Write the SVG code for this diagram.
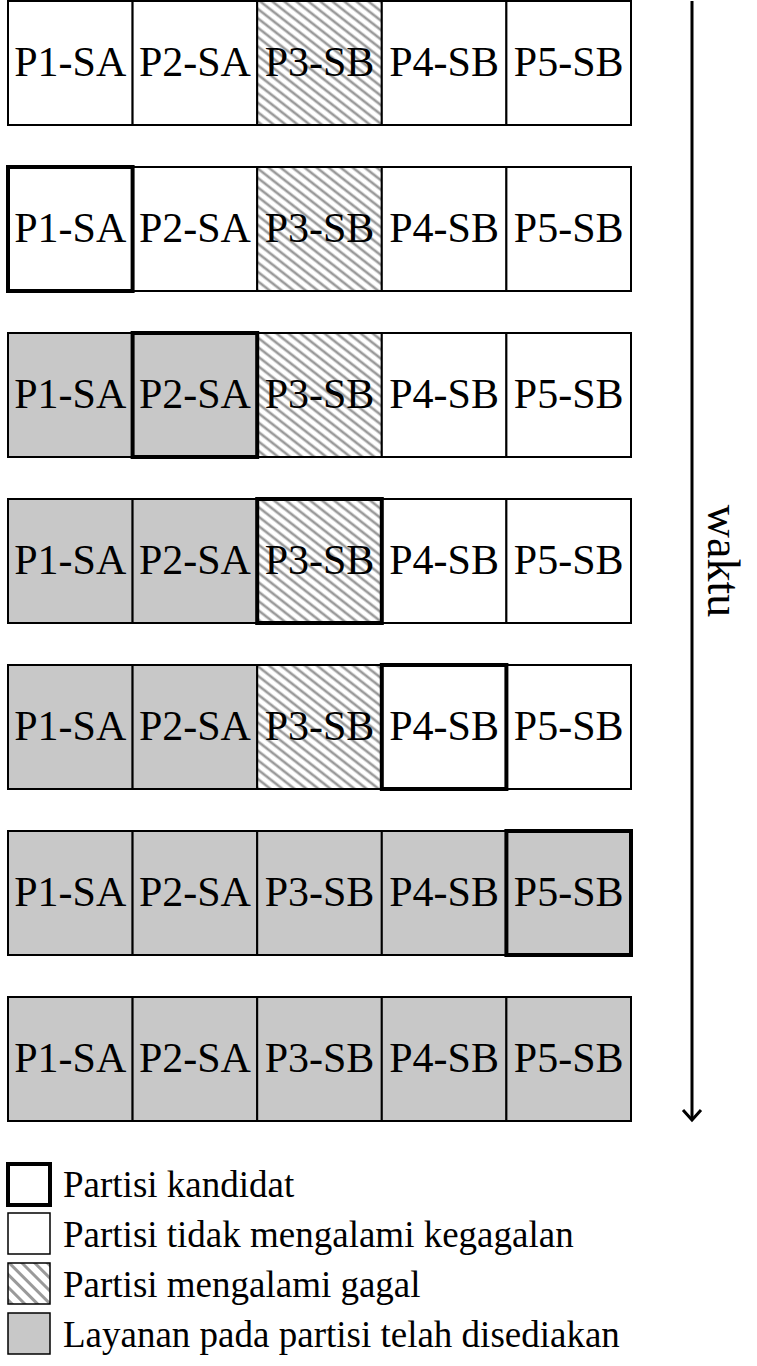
<svg xmlns="http://www.w3.org/2000/svg" width="757" height="1366" viewBox="0 0 757 1366">
<defs>
<pattern id="hatch" patternUnits="userSpaceOnUse" width="10" height="7.4" patternTransform="rotate(38)">
<rect width="10" height="7.4" fill="#fff"/>
<line x1="0" y1="3.7" x2="10" y2="3.7" stroke="#9a9a9a" stroke-width="2.6"/>
</pattern>
<pattern id="hatchL" patternUnits="userSpaceOnUse" width="10" height="9" patternTransform="rotate(45)">
<rect width="10" height="9" fill="#fff"/>
<line x1="0" y1="4.5" x2="10" y2="4.5" stroke="#9a9a9a" stroke-width="3"/>
</pattern>
</defs>
<style>
.c{stroke:#000;stroke-width:2}
.w{fill:#fff}
.g{fill:#c8c8c8}
.h{fill:url(#hatch)}
.k{fill:none;stroke:#000;stroke-width:4}
.t{font-family:"Liberation Serif","Times New Roman",serif;font-size:42px;text-anchor:middle;fill:#000}
.l{font-family:"Liberation Serif","Times New Roman",serif;font-size:37px;fill:#000}
</style>
<g id="row1">
<rect class="c w" x="8" y="1" width="124.6" height="124"/><rect class="c w" x="132.6" y="1" width="124.6" height="124"/><rect class="c h" x="257.2" y="1" width="124.6" height="124"/><rect class="c w" x="381.8" y="1" width="124.6" height="124"/><rect class="c w" x="506.4" y="1" width="124.6" height="124"/>
<text class="t" x="70.3" y="76">P1-SA</text><text class="t" x="194.9" y="76">P2-SA</text><text class="t" x="319.5" y="76">P3-SB</text><text class="t" x="444.1" y="76">P4-SB</text><text class="t" x="568.7" y="76">P5-SB</text>
</g>
<g id="row2">
<rect class="c w" x="8" y="167" width="124.6" height="124"/><rect class="c w" x="132.6" y="167" width="124.6" height="124"/><rect class="c h" x="257.2" y="167" width="124.6" height="124"/><rect class="c w" x="381.8" y="167" width="124.6" height="124"/><rect class="c w" x="506.4" y="167" width="124.6" height="124"/>
<rect class="k" x="8" y="167" width="124.6" height="124"/>
<text class="t" x="70.3" y="242">P1-SA</text><text class="t" x="194.9" y="242">P2-SA</text><text class="t" x="319.5" y="242">P3-SB</text><text class="t" x="444.1" y="242">P4-SB</text><text class="t" x="568.7" y="242">P5-SB</text>
</g>
<g id="row3">
<rect class="c g" x="8" y="333" width="124.6" height="124"/><rect class="c g" x="132.6" y="333" width="124.6" height="124"/><rect class="c h" x="257.2" y="333" width="124.6" height="124"/><rect class="c w" x="381.8" y="333" width="124.6" height="124"/><rect class="c w" x="506.4" y="333" width="124.6" height="124"/>
<rect class="k" x="132.6" y="333" width="124.6" height="124"/>
<text class="t" x="70.3" y="408">P1-SA</text><text class="t" x="194.9" y="408">P2-SA</text><text class="t" x="319.5" y="408">P3-SB</text><text class="t" x="444.1" y="408">P4-SB</text><text class="t" x="568.7" y="408">P5-SB</text>
</g>
<g id="row4">
<rect class="c g" x="8" y="499" width="124.6" height="124"/><rect class="c g" x="132.6" y="499" width="124.6" height="124"/><rect class="c h" x="257.2" y="499" width="124.6" height="124"/><rect class="c w" x="381.8" y="499" width="124.6" height="124"/><rect class="c w" x="506.4" y="499" width="124.6" height="124"/>
<rect class="k" x="257.2" y="499" width="124.6" height="124"/>
<text class="t" x="70.3" y="574">P1-SA</text><text class="t" x="194.9" y="574">P2-SA</text><text class="t" x="319.5" y="574">P3-SB</text><text class="t" x="444.1" y="574">P4-SB</text><text class="t" x="568.7" y="574">P5-SB</text>
</g>
<g id="row5">
<rect class="c g" x="8" y="665" width="124.6" height="124"/><rect class="c g" x="132.6" y="665" width="124.6" height="124"/><rect class="c h" x="257.2" y="665" width="124.6" height="124"/><rect class="c w" x="381.8" y="665" width="124.6" height="124"/><rect class="c w" x="506.4" y="665" width="124.6" height="124"/>
<rect class="k" x="381.8" y="665" width="124.6" height="124"/>
<text class="t" x="70.3" y="740">P1-SA</text><text class="t" x="194.9" y="740">P2-SA</text><text class="t" x="319.5" y="740">P3-SB</text><text class="t" x="444.1" y="740">P4-SB</text><text class="t" x="568.7" y="740">P5-SB</text>
</g>
<g id="row6">
<rect class="c g" x="8" y="831" width="124.6" height="124"/><rect class="c g" x="132.6" y="831" width="124.6" height="124"/><rect class="c g" x="257.2" y="831" width="124.6" height="124"/><rect class="c g" x="381.8" y="831" width="124.6" height="124"/><rect class="c g" x="506.4" y="831" width="124.6" height="124"/>
<rect class="k" x="506.4" y="831" width="124.6" height="124"/>
<text class="t" x="70.3" y="906">P1-SA</text><text class="t" x="194.9" y="906">P2-SA</text><text class="t" x="319.5" y="906">P3-SB</text><text class="t" x="444.1" y="906">P4-SB</text><text class="t" x="568.7" y="906">P5-SB</text>
</g>
<g id="row7">
<rect class="c g" x="8" y="997" width="124.6" height="124"/><rect class="c g" x="132.6" y="997" width="124.6" height="124"/><rect class="c g" x="257.2" y="997" width="124.6" height="124"/><rect class="c g" x="381.8" y="997" width="124.6" height="124"/><rect class="c g" x="506.4" y="997" width="124.6" height="124"/>
<text class="t" x="70.3" y="1072">P1-SA</text><text class="t" x="194.9" y="1072">P2-SA</text><text class="t" x="319.5" y="1072">P3-SB</text><text class="t" x="444.1" y="1072">P4-SB</text><text class="t" x="568.7" y="1072">P5-SB</text>
</g>
<g id="connectors">
<line x1="692" y1="1" x2="692" y2="1120" stroke="#000" stroke-width="3"/>
<polyline points="683,1110 692,1120 701,1110" fill="none" stroke="#000" stroke-width="3"/>
</g>
<g id="time-label">
<text transform="translate(708,561) rotate(90)" font-family="Liberation Serif, Times New Roman, serif" font-size="46" text-anchor="middle">waktu</text>
</g>
<g id="legend">
<rect x="8" y="1164" width="42" height="41" fill="#fff" stroke="#000" stroke-width="4"/>
<rect x="8" y="1213" width="42" height="41" fill="#fff" stroke="#000" stroke-width="1.5"/>
<rect x="8" y="1263" width="42" height="41" fill="url(#hatchL)" stroke="#000" stroke-width="1.5"/>
<rect x="8" y="1313" width="42" height="41" fill="#c8c8c8" stroke="#000" stroke-width="1.5"/>
<text class="l" x="63" y="1197">Partisi kandidat</text>
<text class="l" x="63" y="1247">Partisi tidak mengalami kegagalan</text>
<text class="l" x="63" y="1297">Partisi mengalami gagal</text>
<text class="l" x="63" y="1347">Layanan pada partisi telah disediakan</text>
</g>
</svg>
